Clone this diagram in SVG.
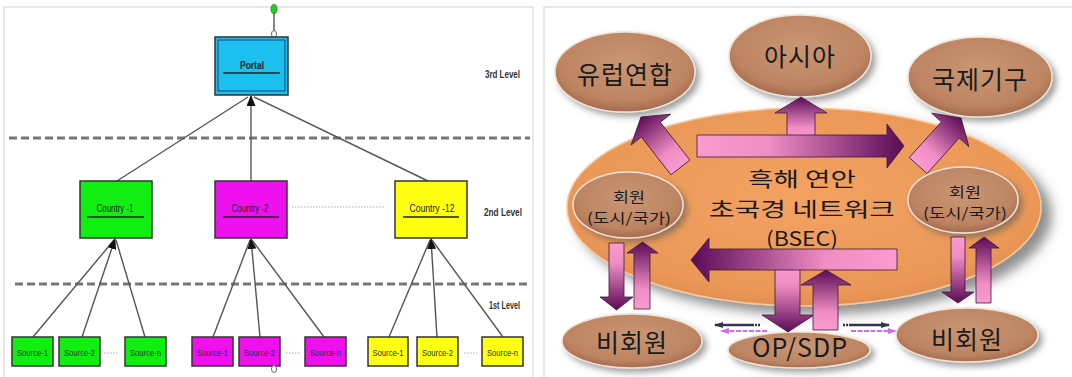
<svg xmlns="http://www.w3.org/2000/svg" width="1072" height="377" viewBox="0 0 1072 377">
<style>
.frame{fill:none;stroke:#d8d8d8;stroke-width:1.2}
.box{stroke:#333;stroke-width:1.5}
.ul{stroke:#222;stroke-width:1.5}
.lt{font-family:"Liberation Sans",Arial,sans-serif;font-size:10px;fill:#222;text-anchor:middle}
.st{font-family:"Liberation Sans",Arial,sans-serif;font-size:9.5px;fill:#223322;text-anchor:middle}
.lv{font-family:"Liberation Sans",Arial,sans-serif;font-size:10px;font-weight:bold;fill:#333}
.conn{stroke:#555;stroke-width:1.4;fill:none}
.dash{stroke:#777;stroke-width:3;stroke-dasharray:8 4;fill:none}
.dots{stroke:#aaa;stroke-width:1.2;stroke-dasharray:1.5 1.5;fill:none}
.kt{font-family:"Noto Sans CJK KR","Noto Sans CJK SC",sans-serif;fill:#1a1a1a;text-anchor:middle}
.big{font-size:25px;letter-spacing:1px}
.mid{font-size:20px}
.sm{font-size:14px}
.brown{fill:url(#gBrown);stroke:#efe2d6;stroke-width:1.5;filter:url(#sh)}
.arr{stroke:#3a1838;stroke-width:0.8}
</style>
<defs>
<marker id="ah" markerUnits="userSpaceOnUse" markerWidth="11" markerHeight="9" refX="10" refY="4.5" orient="auto">
<path d="M0,0 L11,4.5 L0,9 Z" fill="#111"/>
</marker>
<marker id="dk" markerUnits="userSpaceOnUse" markerWidth="9" markerHeight="6" refX="8" refY="3" orient="auto">
<path d="M0,0 L9,3 L0,6 Z" fill="#3a3050"/>
</marker>
<marker id="pk" markerUnits="userSpaceOnUse" markerWidth="9" markerHeight="6" refX="8" refY="3" orient="auto">
<path d="M0,0 L9,3 L0,6 Z" fill="#cf6cf0"/>
</marker>
<radialGradient id="gBrown" cx="0.5" cy="0.4" r="0.62">
<stop offset="0" stop-color="#c99673"/>
<stop offset="0.75" stop-color="#bd8462"/>
<stop offset="1" stop-color="#a0664a"/>
</radialGradient>
<radialGradient id="gOrange" cx="0.5" cy="0.45" r="0.6">
<stop offset="0" stop-color="#f3a262"/>
<stop offset="0.8" stop-color="#eb9858"/>
<stop offset="1" stop-color="#dd884c"/>
</radialGradient>
<linearGradient id="gR" x1="0" y1="0" x2="1" y2="0">
<stop offset="0" stop-color="#fb9bcf"/><stop offset="0.35" stop-color="#ef8dc4"/><stop offset="1" stop-color="#5a0a56"/>
</linearGradient>
<linearGradient id="gL" x1="1" y1="0" x2="0" y2="0">
<stop offset="0" stop-color="#fb9bcf"/><stop offset="0.35" stop-color="#ef8dc4"/><stop offset="1" stop-color="#5a0a56"/>
</linearGradient>
<linearGradient id="gU" x1="0" y1="1" x2="0" y2="0">
<stop offset="0" stop-color="#fb9bcf"/><stop offset="0.3" stop-color="#ef8dc4"/><stop offset="1" stop-color="#5a0a56"/>
</linearGradient>
<linearGradient id="gD" x1="0" y1="0" x2="0" y2="1">
<stop offset="0" stop-color="#fb9bcf"/><stop offset="0.3" stop-color="#ef8dc4"/><stop offset="1" stop-color="#5a0a56"/>
</linearGradient>
<filter id="sh" x="-20%" y="-20%" width="150%" height="160%">
<feGaussianBlur in="SourceAlpha" stdDeviation="3"/>
<feOffset dx="4" dy="4" result="b"/>
<feFlood flood-color="#555" flood-opacity="0.55"/>
<feComposite in2="b" operator="in"/>
<feMerge><feMergeNode/><feMergeNode in="SourceGraphic"/></feMerge>
</filter>
<filter id="shBig" x="-10%" y="-15%" width="125%" height="140%">
<feGaussianBlur in="SourceAlpha" stdDeviation="6"/>
<feOffset dx="10" dy="8" result="b"/>
<feFlood flood-color="#444" flood-opacity="0.6"/>
<feComposite in2="b" operator="in"/>
<feMerge><feMergeNode/><feMergeNode in="SourceGraphic"/></feMerge>
</filter>
</defs>
<rect width="1072" height="377" fill="#fff"/>
<rect class="frame" x="4" y="7" width="529" height="380"/>
<rect class="frame" x="544" y="7" width="540" height="380"/>

<!-- ============ LEFT PANEL ============ -->
<g id="levels">
<line class="dash" x1="9" y1="138" x2="530" y2="138"/>
<line class="dash" x1="15" y1="284" x2="530" y2="284"/>
<text class="lv" x="485" y="78" textLength="35" lengthAdjust="spacingAndGlyphs">3rd Level</text>
<text class="lv" x="484" y="215.5" textLength="38" lengthAdjust="spacingAndGlyphs">2nd Level</text>
<text class="lv" x="489" y="308.5" textLength="31" lengthAdjust="spacingAndGlyphs">1st Level</text>
</g>

<g id="connectors">
<line class="conn" x1="274" y1="12" x2="274" y2="31"/>
<line class="conn" x1="117" y1="181" x2="248" y2="97"/>
<line class="conn" x1="251" y1="181" x2="251" y2="96" marker-end="url(#ah)"/>
<line class="conn" x1="428" y1="181" x2="254" y2="97"/>
<line class="conn" x1="33" y1="337" x2="114" y2="240"/>
<line class="conn" x1="82" y1="337" x2="115" y2="239" marker-end="url(#ah)"/>
<line class="conn" x1="145" y1="337" x2="116" y2="240"/>
<line class="conn" x1="213" y1="337" x2="250" y2="240"/>
<line class="conn" x1="260" y1="337" x2="251" y2="239" marker-end="url(#ah)"/>
<line class="conn" x1="324" y1="337" x2="252" y2="240"/>
<line class="conn" x1="389" y1="337" x2="430" y2="240"/>
<line class="conn" x1="437" y1="337" x2="431" y2="239" marker-end="url(#ah)"/>
<line class="conn" x1="503" y1="337" x2="432" y2="240"/>
<line class="dots" x1="292" y1="207" x2="384" y2="207"/>
<line class="dots" x1="104" y1="353" x2="119" y2="353"/>
<line class="dots" x1="286" y1="353" x2="300" y2="353"/>
<line class="dots" x1="464" y1="353" x2="478" y2="353"/>
</g>

<g id="portal">
<ellipse cx="274" cy="9" rx="3" ry="4.5" fill="#1ed01e" stroke="#2a7a2a" stroke-width="0.8"/>
<ellipse cx="274" cy="34" rx="2.5" ry="3.5" fill="#fff" stroke="#666" stroke-width="1"/>
<rect class="box" x="215" y="37" width="73" height="58" fill="#1cc0ef" stroke-width="2"/>
<rect x="218" y="40" width="67" height="51" fill="none" stroke="#225" stroke-width="0.8"/>
<text class="lt" x="252" y="69" textLength="24" lengthAdjust="spacingAndGlyphs" font-weight="bold" fill="#1a2a44">Portal</text>
<line class="ul" x1="223" y1="73" x2="280" y2="73"/>
</g>

<g id="country-1">
<rect class="box" x="80" y="181" width="72" height="57" fill="#11ee11"/>
<text class="lt" x="115" y="211.5" textLength="37" lengthAdjust="spacingAndGlyphs">Country -1</text>
<line class="ul" x1="87" y1="217" x2="144" y2="217"/>
</g>
<g id="country-2">
<rect class="box" x="215" y="181" width="72" height="57" fill="#ee11ee"/>
<text class="lt" x="250" y="211.5" textLength="37" lengthAdjust="spacingAndGlyphs" fill="#2a1a55">Country -2</text>
<line class="ul" x1="223" y1="217" x2="279" y2="217" stroke="#2a1a40"/>
</g>
<g id="country-12">
<rect class="box" x="395" y="181" width="72" height="57" fill="#ffff11"/>
<text class="lt" x="432" y="211.5" textLength="45" lengthAdjust="spacingAndGlyphs">Country -12</text>
<line class="ul" x1="403" y1="217" x2="459" y2="217"/>
</g>

<g id="g-source-1"><rect class="box" x="12" y="337" width="41" height="29" fill="#11ee11"/><text class="st" x="32.5" y="355.5" textLength="31" lengthAdjust="spacingAndGlyphs">Source-1</text></g>
<g id="g-source-2"><rect class="box" x="59" y="337" width="41" height="29" fill="#11ee11"/><text class="st" x="79.5" y="355.5" textLength="31" lengthAdjust="spacingAndGlyphs">Source-2</text></g>
<g id="g-source-n"><rect class="box" x="125" y="337" width="41" height="29" fill="#11ee11"/><text class="st" x="145.5" y="355.5" textLength="31" lengthAdjust="spacingAndGlyphs">Source-n</text></g>
<g id="m-source-1"><rect class="box" x="192" y="337" width="41" height="29" fill="#ee11ee"/><text class="st" x="212.5" y="355.5" textLength="31" lengthAdjust="spacingAndGlyphs" fill="#2a1a55">Source-1</text></g>
<g id="m-source-2"><rect class="box" x="239" y="337" width="41" height="29" fill="#ee11ee"/><text class="st" x="259.5" y="355.5" textLength="31" lengthAdjust="spacingAndGlyphs" fill="#2a1a55">Source-2</text><ellipse cx="274" cy="369" rx="2.5" ry="3.5" fill="#fff" stroke="#666" stroke-width="1"/></g>
<g id="m-source-n"><rect class="box" x="305" y="337" width="41" height="29" fill="#ee11ee"/><text class="st" x="325.5" y="355.5" textLength="31" lengthAdjust="spacingAndGlyphs" fill="#2a1a55">Source-n</text></g>
<g id="y-source-1"><rect class="box" x="368" y="337" width="40" height="29" fill="#ffff11"/><text class="st" x="388" y="355.5" textLength="31" lengthAdjust="spacingAndGlyphs">Source-1</text></g>
<g id="y-source-2"><rect class="box" x="417" y="337" width="41" height="29" fill="#ffff11"/><text class="st" x="437.5" y="355.5" textLength="31" lengthAdjust="spacingAndGlyphs">Source-2</text></g>
<g id="y-source-n"><rect class="box" x="482" y="337" width="41" height="29" fill="#ffff11"/><text class="st" x="502.5" y="355.5" textLength="31" lengthAdjust="spacingAndGlyphs">Source-n</text></g>

<!-- ============ RIGHT PANEL ============ -->
<g id="bsec">
<ellipse cx="804" cy="207" rx="237" ry="99" fill="url(#gOrange)" stroke="#f3c9a0" stroke-width="1.5" filter="url(#shBig)"/>
<text class="kt mid" x="802" y="187" textLength="108" lengthAdjust="spacingAndGlyphs">흑해 연안</text>
<text class="kt mid" x="802" y="216.5" textLength="186" lengthAdjust="spacingAndGlyphs">초국경 네트워크</text>
<text class="kt mid" x="802" y="246" textLength="72" lengthAdjust="spacingAndGlyphs">(BSEC)</text>
</g>
<g id="eu"><ellipse class="brown" cx="625" cy="72" rx="70" ry="40"/><text class="kt big" x="625" y="84">유럽연합</text></g>
<g id="asia"><ellipse class="brown" cx="800" cy="56" rx="71" ry="41"/><text class="kt big" x="800" y="66">아시아</text></g>
<g id="intl"><ellipse class="brown" cx="980" cy="77" rx="72" ry="40"/><text class="kt big" x="980" y="89">국제기구</text></g>
<g id="member-left"><ellipse class="brown" cx="628" cy="205" rx="55" ry="33"/>
<text class="kt sm" x="629" y="202" textLength="32" lengthAdjust="spacingAndGlyphs">회원</text>
<text class="kt sm" x="629" y="223" textLength="84" lengthAdjust="spacingAndGlyphs">(도시/국가)</text></g>
<g id="member-right"><ellipse class="brown" cx="963" cy="200" rx="55" ry="33"/>
<text class="kt sm" x="965" y="197" textLength="32" lengthAdjust="spacingAndGlyphs">회원</text>
<text class="kt sm" x="965" y="218" textLength="84" lengthAdjust="spacingAndGlyphs">(도시/국가)</text></g>
<g id="nonmember-left"><ellipse class="brown" cx="632" cy="341" rx="70" ry="27"/><text class="kt big" x="632" y="352">비회원</text></g>
<g id="opsdp"><ellipse class="brown" cx="799" cy="350" rx="71" ry="18"/><text class="kt big" x="800" y="357" letter-spacing="0">OP/SDP</text></g>
<g id="nonmember-right"><ellipse class="brown" cx="967" cy="335" rx="71" ry="27"/><text class="kt big" x="967" y="349">비회원</text></g>

<g id="flows">
<path class="arr" fill="url(#gU)" d="M787,140 V113 H775 L801,97 L827,113 H815 V140 Z"/>
<path class="arr" fill="url(#gR)" d="M697,135 H887 V124 L904,146 L887,168 V157 H697 Z"/>
<path class="arr" fill="url(#gU)" transform="translate(641,117) rotate(-38)" d="M-12,64 V16 H-25 L0,0 L25,16 H12 V64 Z"/>
<path class="arr" fill="url(#gU)" transform="translate(961,118) rotate(42)" d="M-12,64 V16 H-25 L0,0 L25,16 H12 V64 Z"/>
<path class="arr" fill="url(#gD)" d="M775,266 V315 H762 L788,332 L814,315 H800 V266 Z"/>
<path class="arr" fill="url(#gL)" d="M897,249 H709 V238 L691,260 L709,282 V270 H897 Z"/>
<path class="arr" fill="url(#gU)" d="M813,330 V285 H801 L826,270 L851,285 H838 V330 Z"/>
<path class="arr" fill="url(#gD)" d="M609,243 V297 H600 L616.5,310 L633,297 H624 V243 Z"/>
<path class="arr" fill="url(#gU)" d="M634,309 V253 H627 L642.5,242 L658,253 H650 V309 Z"/>
<path class="arr" fill="url(#gD)" d="M951,237 V292 H942 L958,303 L974,292 H965 V237 Z"/>
<path class="arr" fill="url(#gU)" d="M976,303 V248 H969 L984,237 L999,248 H991 V303 Z"/>
<line x1="752" y1="325" x2="715" y2="325" stroke="#3a3050" stroke-width="2.5" marker-end="url(#dk)"/>
<line x1="760" y1="325" x2="752" y2="325" stroke="#3a3050" stroke-width="2.5" stroke-dasharray="2 1"/>
<line x1="767" y1="331" x2="721" y2="331" stroke="#cf6cf0" stroke-width="2" stroke-dasharray="5 1.5" marker-end="url(#pk)"/>
<line x1="851" y1="325" x2="889" y2="325" stroke="#3a3050" stroke-width="2.5" marker-end="url(#dk)"/>
<line x1="843" y1="325" x2="851" y2="325" stroke="#3a3050" stroke-width="2.5" stroke-dasharray="2 1"/>
<line x1="851" y1="331" x2="896" y2="331" stroke="#cf6cf0" stroke-width="2" stroke-dasharray="5 1.5" marker-end="url(#pk)"/>
</g>
</svg>
